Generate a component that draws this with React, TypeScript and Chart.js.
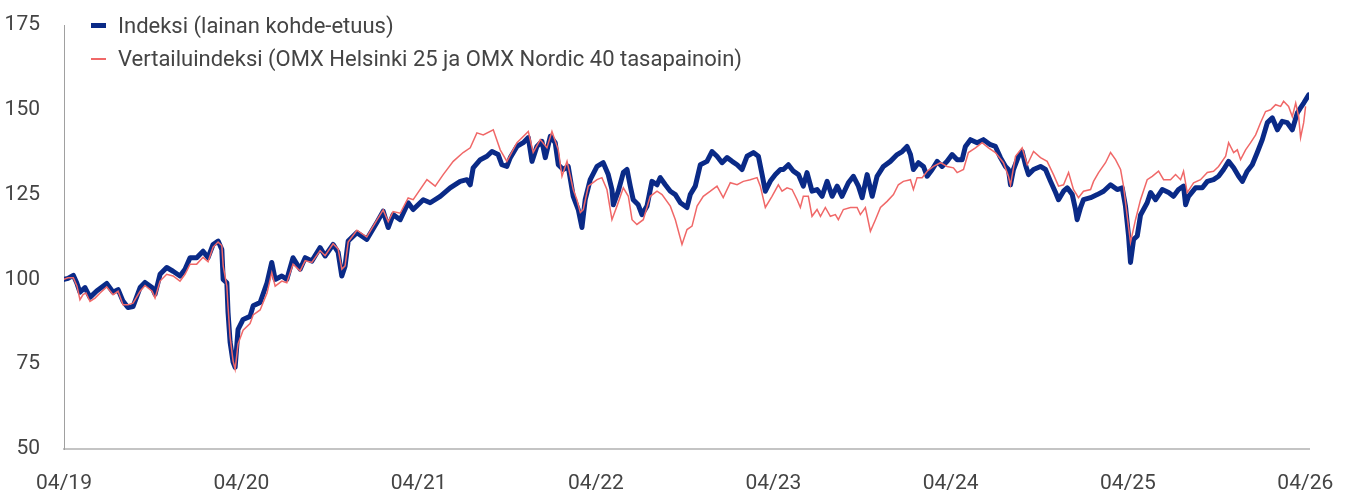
import React, { useEffect, useRef } from 'react';
import { Chart, registerables } from 'chart.js';

Chart.register(...registerables);

// Time axis: months since 04/2019
const xTickMonths = [0, 12, 24, 36, 48, 60, 72, 84];
const xTickLabels = ['04/19', '04/20', '04/21', '04/22', '04/23', '04/24', '04/25', '04/26'];
const yTickValues = [50, 75, 100, 125, 150, 175];

const seriesNames = [
  'Indeksi (lainan kohde-etuus)',
  'Vertailuindeksi (OMX Helsinki 25 ja OMX Nordic 40 tasapainoin)',
];

const blueMonths = [
  0, 0.27, 0.63, 0.86, 1.08, 1.42, 1.76, 2.21, 2.89, 3.32, 3.66, 3.99, 4.33, 4.67, 5.15, 5.48, 5.96, 6.16, 6.5, 6.95,
  7.38, 7.85, 8.19, 8.53, 8.98, 9.41, 9.75, 10.09, 10.43, 10.68, 10.77, 11.02, 11.1, 11.24, 11.44, 11.58, 11.78, 12.12, 12.59,
  12.8, 13.27, 13.74, 14.06, 14.29, 14.74, 15.08, 15.5, 15.98, 16.32, 16.77, 17.33, 17.67, 18.21, 18.55, 18.8, 19.02, 19.23,
  19.82, 20.49, 21.17, 21.6, 21.94, 22.27, 22.75, 23.29, 23.63, 24.31, 24.78, 25.46, 26.13, 26.81, 27.26, 27.49, 27.69,
  28.17, 28.62, 28.96, 29.38, 29.63, 29.97, 30.2, 30.65, 31.08, 31.42, 31.67, 32.0, 32.34, 32.57, 32.91, 33.24, 33.45,
  33.78, 34.12, 34.46, 34.8, 35.05, 35.27, 35.61, 36.07, 36.49, 36.83, 37.08, 37.17, 37.51, 37.85, 38.1, 38.32, 38.52,
  38.86, 39.11, 39.45, 39.79, 40.13, 40.35, 40.69, 41.03, 41.37, 41.71, 42.16, 42.38, 42.72, 43.06, 43.51, 43.85, 44.19,
  44.53, 44.87, 45.21, 45.55, 45.88, 46.22, 46.65, 46.99, 47.24, 47.46, 47.8, 48.14, 48.48, 48.68, 49.02, 49.36, 49.7,
  50.03, 50.28, 50.62, 50.96, 51.3, 51.64, 51.98, 52.32, 52.65, 53.08, 53.42, 53.76, 54.01, 54.35, 54.69, 55.02, 55.45,
  55.92, 56.38, 56.72, 57.05, 57.28, 57.48, 57.82, 58.16, 58.41, 58.75, 59.09, 59.42, 59.76, 60.1, 60.44, 60.78, 61.0,
  61.34, 61.79, 62.22, 62.69, 63.03, 63.37, 63.71, 63.91, 64.05, 64.25, 64.59, 64.84, 65.06, 65.27, 65.61, 66.08, 66.42,
  66.76, 67.1, 67.3, 67.64, 67.89, 68.23, 68.45, 68.56, 68.79, 68.99, 69.47, 69.92, 70.35, 70.82, 71.27, 71.61, 71.83,
  72.04, 72.17, 72.38, 72.63, 72.85, 73.3, 73.53, 73.87, 74.32, 74.75, 75.08, 75.42, 75.76, 75.9, 76.1, 76.57, 77.03,
  77.37, 77.79, 78.13, 78.47, 78.81, 79.15, 79.49, 79.74, 80.07, 80.41, 80.75, 81.09, 81.43, 81.77, 82.11, 82.44, 82.78,
  83.12, 83.46, 83.68, 83.89, 84.23,
];
const blueValues = [
  100.0, 100.3, 101.2, 99.0, 96.2, 97.6, 94.7, 96.6, 98.8, 96.2, 97.0, 93.6, 91.7, 92.0, 97.6, 99.1, 97.6, 95.6, 101.5, 103.5,
  102.4, 101.0, 103.0, 106.4, 106.4, 108.3, 106.4, 110.3, 111.3, 108.8, 100.0, 99.0, 90.3, 81.5, 75.6, 74.1, 85.3, 88.2, 89.1,
  92.2, 93.2, 99.0, 105.0, 100.0, 101.0, 100.0, 106.4, 103.0, 106.4, 105.4, 109.4, 106.9, 110.3, 108.0, 101.0, 103.9, 111.3,
  113.8, 111.8, 116.8, 120.1, 115.3, 119.1, 117.6, 122.6, 120.6, 123.5, 122.6, 124.5, 127.0, 128.9, 129.4, 127.9, 132.9,
  135.3, 136.3, 137.7, 136.8, 133.8, 133.3, 135.9, 139.2, 140.3, 141.8, 134.8, 139.2, 140.7, 135.9, 142.2, 140.3, 133.8,
  132.4, 133.3, 124.5, 120.6, 115.3, 123.5, 129.4, 133.3, 134.4, 130.9, 126.5, 122.0, 126.0, 131.5, 132.4, 127.5, 123.5,
  122.0, 119.1, 121.6, 128.9, 127.9, 130.0, 127.9, 126.0, 125.0, 122.6, 121.2, 125.0, 127.5, 133.8, 134.8, 137.7, 136.3,
  134.4, 135.9, 134.8, 133.8, 132.4, 136.3, 137.4, 136.3, 130.9, 126.0, 129.0, 130.9, 132.4, 132.4, 133.8, 131.9, 130.9,
  127.5, 131.5, 126.0, 126.5, 124.5, 128.9, 124.5, 127.5, 124.5, 128.5, 130.4, 127.5, 124.1, 130.9, 124.5, 130.4, 133.3,
  134.8, 136.8, 137.7, 139.2, 136.8, 132.4, 134.4, 133.3, 130.4, 132.4, 134.8, 133.3, 134.8, 136.8, 135.3, 135.3, 139.2,
  141.2, 140.3, 141.2, 139.7, 139.2, 135.9, 133.3, 132.4, 127.9, 132.4, 136.3, 137.7, 133.8, 130.9, 132.4, 133.3, 132.4,
  128.9, 125.6, 123.5, 126.0, 127.0, 125.0, 120.6, 117.6, 121.2, 123.5, 124.1, 125.0, 126.0, 127.9, 126.5, 127.0, 121.6,
  112.8, 105.0, 111.8, 112.8, 119.0, 122.6, 125.6, 123.5, 126.5, 125.6, 124.5, 126.5, 127.5, 122.0, 124.5, 127.0, 127.0,
  128.9, 129.4, 130.4, 132.4, 134.8, 132.9, 130.4, 128.9, 131.9, 133.8, 137.4, 141.2, 146.2, 147.6, 144.1, 146.6, 146.2,
  144.1, 149.1, 150.6, 152.0, 154.4,
];

const redMonths = [
  0, 0.27, 0.63, 0.88, 1.08, 1.29, 1.49, 1.76, 2.1, 2.44, 2.89, 3.32, 3.66, 3.99, 4.33, 4.67, 5.15, 5.48, 5.96, 6.16, 6.5,
  6.95, 7.38, 7.85, 8.19, 8.53, 8.98, 9.41, 9.75, 10.09, 10.43, 10.68, 10.77, 11.02, 11.1, 11.24, 11.44, 11.58, 11.78,
  12.12, 12.59, 12.8, 13.27, 13.74, 14.06, 14.29, 14.74, 15.08, 15.5, 15.98, 16.32, 16.77, 17.33, 17.67, 18.21, 18.55,
  18.8, 19.02, 19.23, 19.82, 20.49, 21.17, 21.6, 21.94, 22.27, 22.75, 23.29, 23.63, 24.56, 25.12, 25.66, 26.34, 27.01,
  27.49, 27.94, 28.37, 29.05, 29.52, 29.97, 30.65, 31.42, 31.75, 32.23, 32.68, 33.02, 33.45, 33.7, 34.04, 34.46, 34.71,
  34.94, 35.14, 35.48, 36.07, 36.4, 36.74, 37.08, 37.42, 37.85, 38.19, 38.44, 38.77, 39.2, 39.67, 40.13, 40.47, 41.03,
  41.37, 41.82, 42.16, 42.5, 42.84, 43.26, 43.74, 44.19, 44.61, 45.09, 45.55, 45.97, 46.44, 46.9, 47.12, 47.46, 47.91,
  48.34, 48.59, 48.93, 49.27, 49.61, 49.83, 50.03, 50.37, 50.62, 50.96, 51.19, 51.52, 51.86, 52.2, 52.4, 52.74, 53.22,
  53.67, 53.89, 54.23, 54.57, 54.91, 55.25, 55.7, 56.13, 56.46, 56.8, 57.28, 57.48, 57.73, 58.07, 58.41, 58.84, 59.31,
  59.76, 60.19, 60.44, 60.87, 61.2, 61.68, 62.13, 62.56, 63.03, 63.57, 63.91, 64.05, 64.39, 64.84, 65.18, 65.61, 66.08,
  66.53, 66.96, 67.3, 67.64, 67.98, 68.31, 68.65, 68.99, 69.47, 69.67, 70.01, 70.48, 70.82, 71.16, 71.5, 71.7, 71.95,
  72.17, 72.51, 72.85, 73.3, 73.64, 74.07, 74.41, 74.88, 75.22, 75.56, 75.76, 76.01, 76.44, 76.91, 77.37, 77.79, 78.13,
  78.61, 78.81, 79.15, 79.4, 79.62, 79.96, 80.3, 80.64, 80.97, 81.31, 81.65, 81.99, 82.33, 82.53, 82.87, 83.12, 83.35,
  83.55, 83.68, 83.89, 84.02,
];
const redValues = [
  100.0, 100.5, 100.5, 98.0, 94.0, 95.5, 96.0, 93.5, 94.5, 96.0, 97.8, 95.5, 96.5, 92.5, 92.5, 93.0, 96.5, 98.2, 96.5, 94.5,
  99.5, 101.5, 101.0, 99.5, 101.5, 104.5, 104.5, 106.5, 105.2, 109.5, 111.0, 110.0, 104.0, 98.0, 92.0, 83.0, 76.0, 73.5,
  81.0, 85.0, 87.0, 89.5, 91.0, 96.0, 102.0, 98.0, 99.5, 99.0, 104.5, 102.5, 105.5, 105.0, 108.5, 107.0, 110.5, 109.0,
  103.0, 104.0, 111.0, 114.5, 112.5, 117.5, 120.5, 117.0, 120.0, 119.5, 124.0, 123.5, 129.4, 127.5, 130.9, 134.8, 137.4,
  138.8, 143.2, 142.6, 144.1, 138.2, 134.8, 140.3, 143.6, 137.4, 141.2, 138.8, 143.6, 138.2, 130.4, 134.8, 126.5, 123.5,
  119.7, 120.6, 127.5, 129.4, 130.0, 126.5, 117.6, 121.6, 127.0, 124.5, 117.6, 116.2, 117.6, 124.5, 126.0, 125.0, 121.6,
  117.6, 110.3, 114.7, 115.7, 121.6, 124.5, 126.0, 127.5, 124.1, 128.5, 127.9, 128.9, 129.4, 130.0, 127.5, 121.2, 124.5,
  127.9, 126.0, 127.0, 126.5, 123.5, 121.2, 124.5, 124.5, 118.6, 120.6, 118.6, 121.2, 118.6, 119.1, 117.6, 120.6, 121.2,
  121.2, 119.1, 121.2, 114.2, 117.6, 121.2, 123.0, 125.0, 127.9, 128.9, 129.4, 126.5, 130.0, 130.0, 131.9, 133.3, 134.4,
  133.3, 132.9, 131.5, 132.4, 137.4, 138.8, 140.3, 138.8, 137.4, 134.4, 130.4, 127.9, 136.3, 138.8, 133.8, 137.7, 135.9,
  134.8, 130.9, 127.5, 127.9, 131.5, 126.5, 124.1, 126.0, 126.5, 128.9, 131.5, 134.4, 137.4, 135.3, 132.4, 127.5, 118.6,
  110.9, 117.6, 123.5, 129.4, 130.4, 131.9, 129.4, 129.4, 130.9, 129.4, 131.9, 125.6, 128.5, 129.4, 131.5, 131.9, 133.3,
  136.3, 140.3, 137.4, 138.2, 135.3, 138.2, 140.3, 142.6, 146.2, 149.5, 150.0, 151.5, 151.0, 152.5, 151.0, 148.0, 152.0,
  148.0, 141.8, 146.2, 151.0,
];

const BLUE = '#0a2a87';
const RED = '#f06868';
const TEXT = '#444444';
const FONT_FAMILY = 'Roboto, "Noto Sans", sans-serif';

export default function App() {
  const canvasRef = useRef<HTMLCanvasElement>(null);

  useEffect(() => {
    const canvas = canvasRef.current;
    if (!canvas) return;
    const chart = new Chart(canvas, {
      type: 'line',
      data: {
        datasets: [
          {
            label: seriesNames[1],
            data: redMonths.map((m, i) => ({ x: m, y: redValues[i] })),
            borderColor: RED,
            backgroundColor: RED,
            borderWidth: 1.5,
            pointRadius: 0,
            tension: 0,
            order: 1,
          },
          {
            label: seriesNames[0],
            data: blueMonths.map((m, i) => ({ x: m, y: blueValues[i] })),
            borderColor: BLUE,
            backgroundColor: BLUE,
            borderWidth: 5,
            borderJoinStyle: 'round',
            borderCapStyle: 'round',
            pointRadius: 0,
            tension: 0,
            order: 2,
          },
        ],
      },
      options: {
        animation: false,
        responsive: false,
        events: [],
        layout: { padding: { top: 25, right: 41, bottom: 0, left: 0 } },
        plugins: {
          legend: { display: false },
          tooltip: { enabled: false },
        },
        scales: {
          x: {
            type: 'linear',
            min: 0,
            max: 84.25,
            grid: { display: false, drawTicks: false },
            border: { display: true, color: '#c4c4c4', width: 2 },
            afterBuildTicks: (axis: any) => {
              axis.ticks = xTickMonths.map((v) => ({ value: v }));
            },
            afterFit: (scale: any) => {
              scale.height = 42;
              scale.paddingLeft = 0;
              scale.paddingRight = 0;
            },
            ticks: {
              autoSkip: false,
              maxRotation: 0,
              padding: 22,
              color: TEXT,
              font: { family: FONT_FAMILY, size: 21 },
              callback: (value: any) => {
                const idx = xTickMonths.indexOf(Number(value));
                return idx >= 0 ? xTickLabels[idx] : '';
              },
            },
          },
          y: {
            type: 'linear',
            min: 50,
            max: 175,
            grid: { display: false, drawTicks: false },
            border: { display: true, color: '#a0a0a0', width: 1 },
            afterBuildTicks: (axis: any) => {
              axis.ticks = yTickValues.map((v) => ({ value: v }));
            },
            afterFit: (scale: any) => {
              scale.width = 64;
              scale.paddingTop = 0;
              scale.paddingBottom = 0;
            },
            ticks: {
              padding: 24,
              color: TEXT,
              font: { family: FONT_FAMILY, size: 21 },
            },
          },
        },
      },
    });
    return () => chart.destroy();
  }, []);

  const legendItems = [
    { label: seriesNames[0], color: BLUE, h: 5 },
    { label: seriesNames[1], color: RED, h: 2 },
  ];

  return (
    <div style={{ position: 'absolute', left: 0, top: 0, width: 1350, height: 491, background: '#fff' }}>
      <canvas ref={canvasRef} width={1350} height={491} style={{ display: 'block' }} />
      <div
        style={{
          position: 'absolute',
          left: 91,
          top: 9,
          fontFamily: FONT_FAMILY,
          fontSize: 22,
          color: TEXT,
        }}
      >
        {legendItems.map((it) => (
          <div key={it.label} style={{ display: 'flex', alignItems: 'center', height: 33, whiteSpace: 'nowrap' }}>
            <span style={{ display: 'inline-block', width: 15, height: it.h, background: it.color, marginRight: 12 }} />
            <span>{it.label}</span>
          </div>
        ))}
      </div>
    </div>
  );
}
